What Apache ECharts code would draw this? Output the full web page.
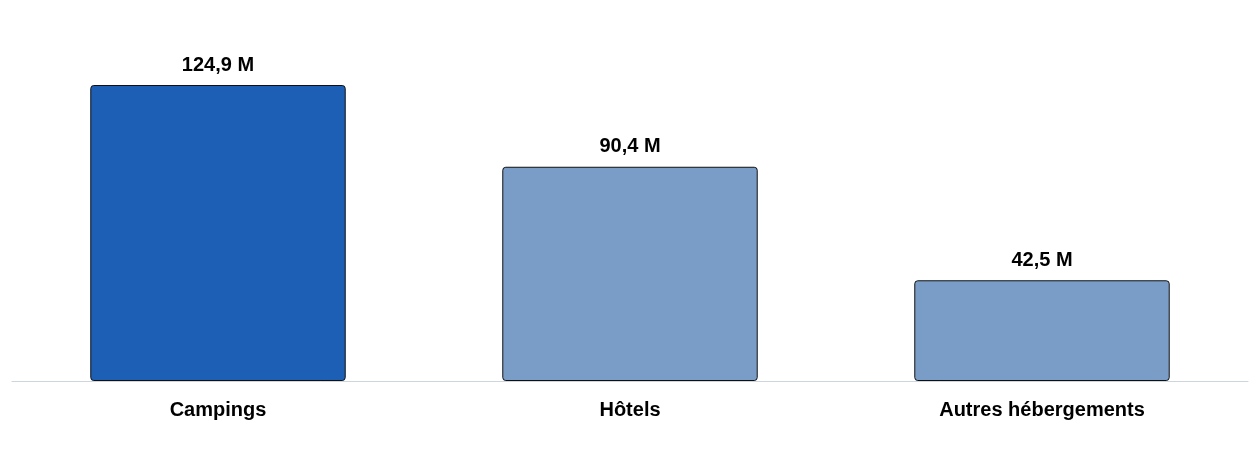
<!DOCTYPE html>
<html>
<head>
<meta charset="utf-8">
<script src="https://cdn.jsdelivr.net/npm/echarts@6/dist/echarts.min.js"></script>
<style>html,body{margin:0;padding:0;background:#fff}#c{width:1260px;height:450px}</style>
</head>
<body>
<div id="c"></div>
<script>
const categories = ['Campings', 'Hôtels', 'Autres hébergements'];
const values = [124.9, 90.4, 42.5];
const barColors = ['#1c5fb5', '#7a9dc8', '#7a9dc8'];

const chart = echarts.init(document.getElementById('c'));
chart.setOption({
  animation: false,
  grid: { left: 12, right: 12, top: 85, bottom: 69 },
  xAxis: {
    type: 'category',
    data: categories,
    axisLine: { show: true, lineStyle: { color: '#ccd6dc', width: 1 } },
    axisTick: { show: false },
    axisLabel: {
      margin: 19,
      color: '#000',
      fontFamily: 'Liberation Sans',
      fontWeight: 'bold',
      fontSize: 20
    }
  },
  yAxis: {
    type: 'value',
    min: 0,
    max: 'dataMax',
    show: false,
    splitLine: { show: false }
  },
  series: [{
    type: 'bar',
    barCategoryGap: '38%',
    data: values.map((v, i) => ({
      value: v,
      itemStyle: { color: barColors[i] }
    })),
    itemStyle: { borderColor: '#111', borderWidth: 1, borderRadius: 3 },
    label: {
      show: true,
      position: 'top',
      distance: 10,
      color: '#000',
      fontFamily: 'Liberation Sans',
      fontWeight: 'bold',
      fontSize: 20,
      formatter: p => String(p.value).replace('.', ',') + ' M'
    }
  }]
});
</script>
</body>
</html>
